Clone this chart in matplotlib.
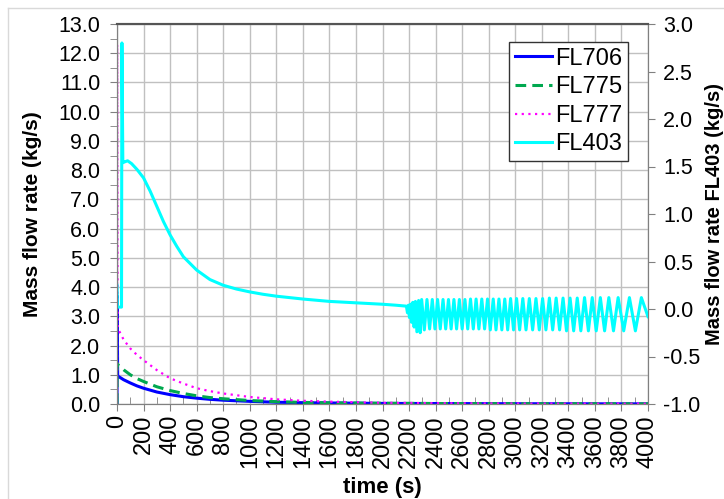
import matplotlib
matplotlib.use("Agg")
import matplotlib.pyplot as plt
from matplotlib.lines import Line2D
import numpy as np

plt.rcParams['font.family'] = ['Liberation Sans', 'DejaVu Sans']
plt.rcParams['axes.unicode_minus'] = False

# left axis series (kg/s)
time_left = [0, 1, 5, 50, 100, 150, 200, 300, 400, 500, 600, 700, 800, 1000, 1200,
             1400, 1600, 2000, 2500, 3000, 4000]
fl706 = [0, 3.7, 0.96, 0.83, 0.72, 0.62, 0.54, 0.41, 0.32, 0.25, 0.20, 0.16, 0.13, 0.09, 0.06,
         0.045, 0.035, 0.02, 0.015, 0.01, 0.005]
fl775 = [0, 1.4, 1.35, 1.17, 1.0, 0.87, 0.77, 0.59, 0.46, 0.36, 0.28, 0.22, 0.18, 0.12, 0.08,
         0.055, 0.04, 0.025, 0.015, 0.01, 0.005]
fl777 = [0, 12.3, 2.6, 2.2, 1.9, 1.68, 1.5, 1.16, 0.88, 0.70, 0.54, 0.44, 0.36, 0.24, 0.16,
         0.11, 0.08, 0.04, 0.025, 0.015, 0.01]

# FL403 (right axis) - start-up and decay
fl403_t = [0, 3, 34, 37, 44, 60, 80, 110, 150, 200, 250, 300, 350, 400, 450, 500, 600, 700,
           800, 900, 1000, 1100, 1200, 1400, 1600, 1800, 2000, 2100, 2180,
           2188, 2195, 2203, 2211, 2219, 2228, 2238, 2248, 2259, 2272, 2284]
fl403_v = [0.25, 0.02, 0.02, 2.8, 1.54, 1.55, 1.56, 1.53, 1.47, 1.38, 1.24, 1.08, 0.92, 0.78,
           0.66, 0.55, 0.41, 0.31, 0.25, 0.21, 0.18, 0.155, 0.135, 0.105, 0.08, 0.065, 0.05,
           0.04, 0.03, -0.04, 0.04, -0.09, 0.05, -0.14, 0.07, -0.19, 0.08, -0.24, 0.09, -0.25]

# FL403 oscillation peaks / troughs
osc_peak_t = [2295, 2335, 2375, 2415, 2456, 2497, 2538, 2579, 2621, 2663, 2705, 2748, 2791,
              2834, 2877, 2921, 2965, 3010, 3057, 3106, 3156, 3206, 3257, 3308, 3360, 3413,
              3467, 3522, 3580, 3641, 3705, 3775, 3860, 3950]
osc_peak_v = [0.10, 0.10, 0.10, 0.10, 0.10, 0.10, 0.10, 0.10, 0.10, 0.105, 0.105, 0.105, 0.105,
              0.105, 0.105, 0.105, 0.11, 0.11, 0.11, 0.11, 0.11, 0.11, 0.115, 0.115, 0.115,
              0.115, 0.115, 0.12, 0.12, 0.12, 0.12, 0.12, 0.12, 0.12]
osc_trough_t = [2315, 2355, 2395, 2435, 2476, 2517, 2558, 2600, 2642, 2684, 2726, 2769, 2812,
                2855, 2899, 2943, 2987, 3033, 3081, 3131, 3181, 3231, 3282, 3334, 3386, 3440,
                3494, 3551, 3610, 3673, 3740, 3817, 3905, 4000]
osc_trough_v = [-0.22, -0.21, -0.21, -0.21, -0.21, -0.21, -0.21, -0.21, -0.21, -0.21, -0.21,
                -0.21, -0.22, -0.22, -0.22, -0.22, -0.22, -0.22, -0.22, -0.22, -0.22, -0.22,
                -0.22, -0.22, -0.23, -0.23, -0.23, -0.23, -0.23, -0.23, -0.23, -0.23, -0.23,
                -0.08]

osc = sorted(zip(osc_peak_t + osc_trough_t, osc_peak_v + osc_trough_v))
t403 = fl403_t + [p[0] for p in osc]
v403 = fl403_v + [p[1] for p in osc]

W, H = 724, 499
fig = plt.figure(figsize=(W / 100, H / 100), dpi=100)
ax = fig.add_axes([117 / W, 1 - 404 / H, (648 - 117) / W, (404 - 24) / H])
ax2 = ax.twinx()

# faint frame around the picture
fig.add_artist(Line2D([8 / W, 1], [1 - 8 / H, 1 - 8 / H], color='#d9d9d9', lw=1))
fig.add_artist(Line2D([8 / W, 8 / W], [0, 1 - 8 / H], color='#d9d9d9', lw=1))

l1, = ax.plot(time_left, fl706, color='#0000ff', lw=2.2, label='FL706')
l2, = ax.plot(time_left, fl775, color='#00a84f', lw=2.2, ls=(0, (3.5, 2)), label='FL775')
l3, = ax.plot(time_left, fl777, color='#ff00ff', lw=1.6, ls=(0, (1, 2)), label='FL777')
l4, = ax2.plot(t403, v403, color='#00ffff', lw=2.2, label='FL403')

ax.set_xlim(0, 4000)
ax.set_ylim(0, 13)
ax2.set_ylim(-1, 3)
ax.set_xticks(np.arange(0, 4001, 200))
ax.set_xticks(np.arange(100, 4000, 200), minor=True)
ax.set_yticks(np.arange(0, 13.01, 1))
ax.set_yticks(np.arange(0.5, 13, 1), minor=True)
ax2.set_yticks(np.arange(-1, 3.01, 0.5))
ax.set_yticklabels(['%.1f' % v for v in np.arange(0, 13.01, 1)])
ax2.set_yticklabels(['%.1f' % v for v in np.arange(-1, 3.01, 0.5)])
ax.set_xticklabels([str(v) for v in range(0, 4001, 200)], rotation=90)

ax.grid(True, which='major', color='#c0c0c0', lw=1)
ax.set_axisbelow(True)

for a in (ax, ax2):
    for s in a.spines.values():
        s.set_color('#808080')
    a.spines['top'].set_color('#555555')
    a.spines['top'].set_linewidth(1.5)

ax.tick_params(axis='y', which='both', direction='out', length=5, color='#808080',
               labelsize=15.5, pad=7)
ax.tick_params(axis='x', which='major', direction='out', length=5, color='#808080',
               labelsize=17, pad=3)
ax.tick_params(axis='x', which='minor', direction='in', length=5, color='#808080')
ax2.tick_params(axis='y', direction='out', length=5, color='#808080', labelsize=15.5, pad=6)

ax.set_ylabel('Mass flow rate (kg/s)', fontsize=15, fontweight='bold', labelpad=12)
ax2.set_ylabel('Mass flow rate FL403 (kg/s)', fontsize=14.5, fontweight='bold', labelpad=3)
ax.set_xlabel('time (s)', fontsize=16, fontweight='bold', labelpad=7)

leg = ax2.legend(handles=[l1, l2, l3, l4], loc='upper right',
                 bbox_to_anchor=((628 - 117) / 531, (404 - 41.7) / 380),
                 borderaxespad=0, fontsize=17, frameon=True, fancybox=False,
                 edgecolor='#333333', framealpha=1, handlelength=1.6, handletextpad=0.1,
                 labelspacing=0.28, borderpad=0.25)
leg.get_frame().set_linewidth(1)

fig.savefig('out.png', dpi=100)
